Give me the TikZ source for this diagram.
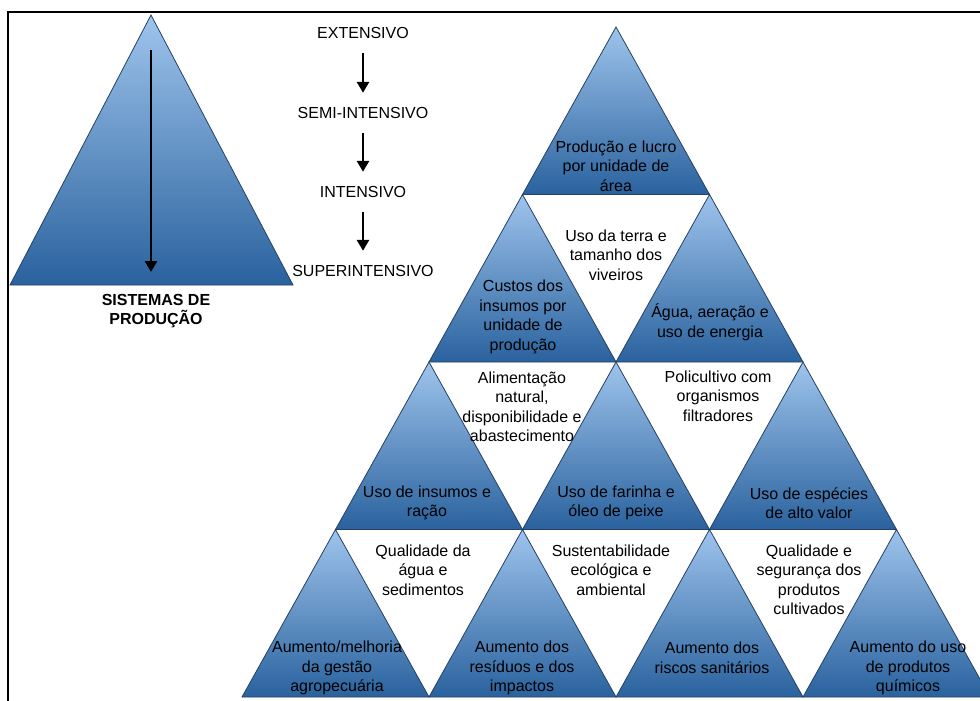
\documentclass[tikz,border=0pt]{standalone}
\usepackage{fontspec}
\setmainfont{Liberation Sans}
\usetikzlibrary{arrows.meta}

\definecolor{pyrtop}{RGB}{158,196,236}
\definecolor{pyrmid}{RGB}{92,152,214}
\definecolor{pyrbot}{RGB}{42,98,158}
\definecolor{pyredge}{RGB}{38,64,100}

\tikzset{
  tri/.style={draw=pyredge,line width=.8pt,top color=pyrtop,middle color=pyrmid,bottom color=pyrbot},
  lbl/.style={align=center,inner sep=0pt,font=\fontsize{16}{19.5}\selectfont},
  stage/.style={lbl,text height=11pt,text depth=0pt},
  down/.style={-{Triangle[width=12pt,length=11pt]},line width=2.8pt}
}

\begin{document}
\begin{tikzpicture}[x=1pt,y=-1pt]
\useasboundingbox (0,0) rectangle (980,701);
\clip (0,0) rectangle (980,701);

\draw[line width=2pt] (8,720) -- (8,12) -- (1000,12);

% sistemas de producao
\shadedraw[tri] (151,15) -- (293,285) -- (10,285) -- cycle;
\coordinate (top) at (151,50);
\coordinate (bot) at (151,272);
\draw[down] (top) -- (bot);
\node[align=center,inner sep=0pt,font=\fontsize{16}{19.5}\selectfont\bfseries] (sis) at (156,311) {SISTEMAS DE\\PRODUÇÃO};

\node[stage] (ext)  at (363,33)  {EXTENSIVO};
\node[stage] (semi) at (363,113) {SEMI-INTENSIVO};
\node[stage] (int)  at (363,192) {INTENSIVO};
\node[stage] (sup)  at (363,271) {SUPERINTENSIVO};

\begin{scope}[down,shorten <=14.5pt,shorten >=14.5pt]
\draw (ext) -- (semi);
\draw (semi) -- (int);
\draw (int) -- (sup);
\end{scope}

% piramide
\foreach \r in {0,...,3}{
\foreach \k in {0,...,\r}
  \shadedraw[tri] ({616+(\k-\r/2)*187},{27+\r*167.5}) -- ++(93.5,167.5) -- ++(-187,0) -- cycle;
}

\node[lbl] (prod)     at (616,166) {Produção e lucro\\por unidade de\\área};
\node[lbl] (terra)    at (616,255) {Uso da terra e\\tamanho dos\\viveiros};
\node[lbl] (custos)   at (523,317) {Custos dos\\insumos por\\unidade de\\produção};
\node[lbl] (agua)     at (710,322) {Água, aeração e\\uso de energia};
\node[lbl] (alim)     at (522,407) {Alimentação\\natural,\\disponibilidade e\\abastecimento};
\node[lbl] (poli)     at (718,396) {Policultivo com\\organismos\\filtradores};
\node[lbl] (insumos)  at (427,503) {Uso de insumos e\\ração};
\node[lbl] (farinha)  at (616,503) {Uso de farinha e\\óleo de peixe};
\node[lbl] (especies) at (809,503) {Uso de espécies\\de alto valor};
\node[lbl] (qualagua) at (423,570) {Qualidade da\\água e\\sedimentos};
\node[lbl] (sust)     at (611,570) {Sustentabilidade\\ecológica e\\ambiental};
\node[lbl] (qualseg)  at (809,580) {Qualidade e\\segurança dos\\produtos\\cultivados};
\node[lbl] (gestao)   at (337,668) {Aumento/melhoria\\da gestão\\agropecuária};
\node[lbl] (residuos) at (522,668) {Aumento dos\\resíduos e dos\\impactos};
\node[lbl] (riscos)   at (712,658) {Aumento dos\\riscos sanitários};
\node[lbl] (quimicos) at (908,668) {Aumento do uso\\de produtos\\químicos};

\end{tikzpicture}
\end{document}
